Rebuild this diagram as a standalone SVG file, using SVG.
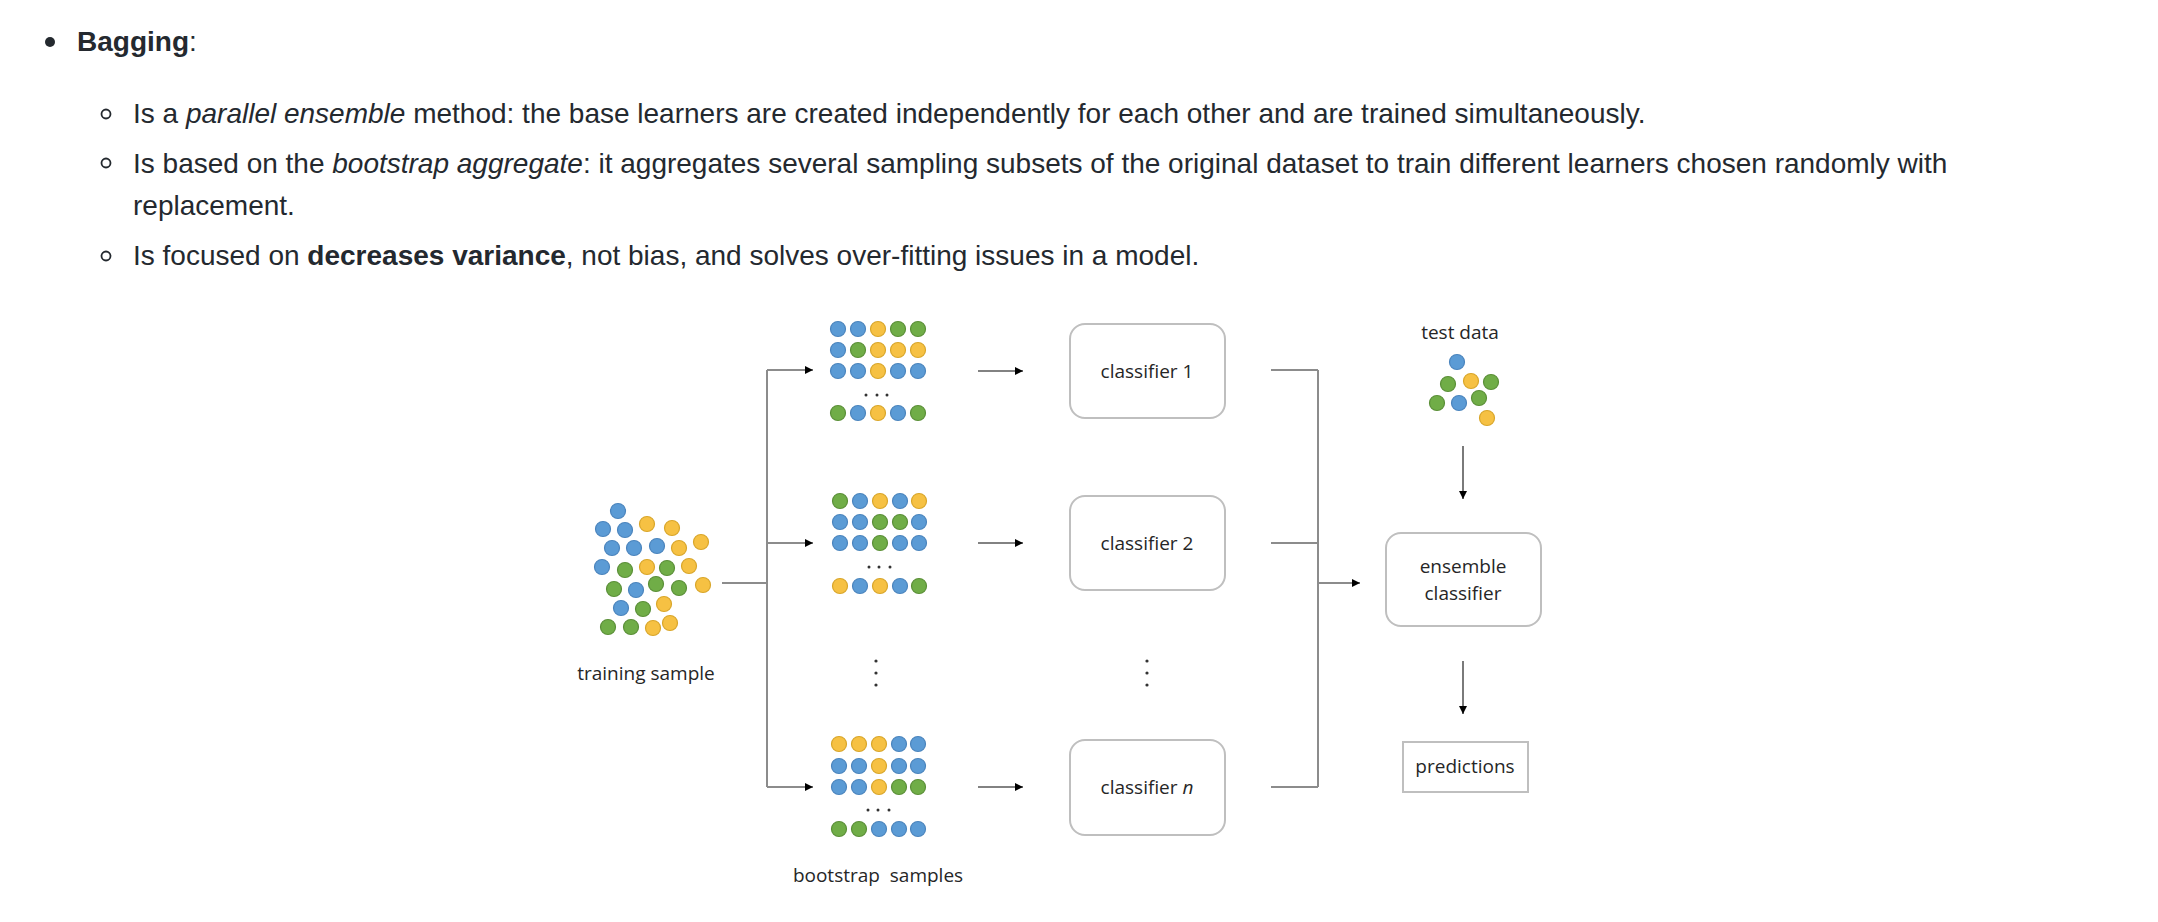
<svg xmlns="http://www.w3.org/2000/svg" width="2158" height="922" viewBox="0 0 2158 922">
<style>
.hdr{font-family:"Liberation Sans",Arial,sans-serif;font-size:28px;fill:#24292f}
.b{font-weight:bold}
.i{font-style:italic}
.lbl{font-family:"Open Sans","Noto Sans",sans-serif;font-size:19px;fill:#262626}
.box{fill:#fff;stroke:#bfbfbf;stroke-width:2}
.ln{fill:none;stroke:#8c8c8c;stroke-width:2}
.ar{fill:none;stroke:#595959;stroke-width:1.6}
.B{fill:#5b9bd5;stroke:#4a84bd;stroke-width:1.2}
.Y{fill:#f6c143;stroke:#d9a62a;stroke-width:1.2}
.G{fill:#70ad47;stroke:#5a8f37;stroke-width:1.2}
.dot{fill:#333}
</style>
<defs>
<marker id="ah" viewBox="0 0 10 10" refX="10" refY="5" markerWidth="8" markerHeight="8" markerUnits="userSpaceOnUse" orient="auto"><path d="M0,0 L10,5 L0,10 z" fill="#000"/></marker>
</defs>
<rect width="2158" height="922" fill="#fff"/>

<g id="text-header">
<circle cx="50" cy="42" r="5" fill="#24292f"/>
<text class="hdr" x="77" y="51"><tspan class="b">Bagging</tspan>:</text>
<circle cx="106" cy="114" r="4.5" fill="none" stroke="#24292f" stroke-width="1.8"/>
<text class="hdr" x="133" y="123">Is a <tspan class="i">parallel ensemble</tspan> method: the base learners are created independently for each other and are trained simultaneously.</text>
<circle cx="106" cy="163" r="4.5" fill="none" stroke="#24292f" stroke-width="1.8"/>
<text class="hdr" x="133" y="173">Is based on the <tspan class="i">bootstrap aggregate</tspan>: it aggregates several sampling subsets of the original dataset to train different learners chosen randomly with</text>
<text class="hdr" x="133" y="215">replacement.</text>
<circle cx="106" cy="256" r="4.5" fill="none" stroke="#24292f" stroke-width="1.8"/>
<text class="hdr" x="133" y="265">Is focused on <tspan class="b">decreases variance</tspan>, not bias, and solves over-fitting issues in a model.</text>
</g>

<g id="connectors">
<path class="ln" d="M722,583 H767 M767,370 V787"/>
<path class="ln" d="M767,370 H813" marker-end="url(#ah)"/>
<path class="ln" d="M767,543 H813" marker-end="url(#ah)"/>
<path class="ln" d="M767,787 H813" marker-end="url(#ah)"/>
<path class="ar" d="M978,371 H1023" marker-end="url(#ah)"/>
<path class="ar" d="M978,543 H1023" marker-end="url(#ah)"/>
<path class="ar" d="M978,787 H1023" marker-end="url(#ah)"/>
<path class="ln" d="M1271,370 H1318 M1271,543 H1318 M1271,787 H1318 M1318,370 V787"/>
<path class="ln" d="M1318,583 H1360" marker-end="url(#ah)"/>
<path class="ar" d="M1463,446 V499" marker-end="url(#ah)"/>
<path class="ar" d="M1463,661 V714" marker-end="url(#ah)"/>
</g>

<g id="training-sample">
<circle class="B" cx="618" cy="511" r="7.5"/>
<circle class="B" cx="603" cy="529" r="7.5"/>
<circle class="B" cx="625" cy="530" r="7.5"/>
<circle class="Y" cx="647" cy="524" r="7.5"/>
<circle class="Y" cx="672" cy="528" r="7.5"/>
<circle class="B" cx="612" cy="548" r="7.5"/>
<circle class="B" cx="634" cy="548" r="7.5"/>
<circle class="B" cx="657" cy="546" r="7.5"/>
<circle class="Y" cx="679" cy="548" r="7.5"/>
<circle class="Y" cx="701" cy="542" r="7.5"/>
<circle class="B" cx="602" cy="567" r="7.5"/>
<circle class="G" cx="625" cy="570" r="7.5"/>
<circle class="Y" cx="647" cy="567" r="7.5"/>
<circle class="G" cx="667" cy="568" r="7.5"/>
<circle class="Y" cx="689" cy="566" r="7.5"/>
<circle class="G" cx="614" cy="589" r="7.5"/>
<circle class="B" cx="636" cy="590" r="7.5"/>
<circle class="G" cx="656" cy="584" r="7.5"/>
<circle class="G" cx="679" cy="588" r="7.5"/>
<circle class="Y" cx="703" cy="585" r="7.5"/>
<circle class="B" cx="621" cy="608" r="7.5"/>
<circle class="G" cx="643" cy="609" r="7.5"/>
<circle class="Y" cx="664" cy="604" r="7.5"/>
<circle class="G" cx="608" cy="627" r="7.5"/>
<circle class="G" cx="631" cy="627" r="7.5"/>
<circle class="Y" cx="653" cy="628" r="7.5"/>
<circle class="Y" cx="670" cy="623" r="7.5"/>
<text class="lbl" x="646" y="680" text-anchor="middle">training sample</text>
</g>

<g id="bootstrap-1">
<circle class="B" cx="838" cy="329" r="7.5"/><circle class="B" cx="858" cy="329" r="7.5"/><circle class="Y" cx="878" cy="329" r="7.5"/><circle class="G" cx="898" cy="329" r="7.5"/><circle class="G" cx="918" cy="329" r="7.5"/>
<circle class="B" cx="838" cy="350" r="7.5"/><circle class="G" cx="858" cy="350" r="7.5"/><circle class="Y" cx="878" cy="350" r="7.5"/><circle class="Y" cx="898" cy="350" r="7.5"/><circle class="Y" cx="918" cy="350" r="7.5"/>
<circle class="B" cx="838" cy="371" r="7.5"/><circle class="B" cx="858" cy="371" r="7.5"/><circle class="Y" cx="878" cy="371" r="7.5"/><circle class="B" cx="898" cy="371" r="7.5"/><circle class="B" cx="918" cy="371" r="7.5"/>
<circle class="dot" cx="866" cy="395" r="1.5"/><circle class="dot" cx="877" cy="395" r="1.5"/><circle class="dot" cx="887" cy="395" r="1.5"/>
<circle class="G" cx="838" cy="413" r="7.5"/><circle class="B" cx="858" cy="413" r="7.5"/><circle class="Y" cx="878" cy="413" r="7.5"/><circle class="B" cx="898" cy="413" r="7.5"/><circle class="G" cx="918" cy="413" r="7.5"/>
</g>

<g id="bootstrap-2">
<circle class="G" cx="840" cy="501" r="7.5"/><circle class="B" cx="860" cy="501" r="7.5"/><circle class="Y" cx="880" cy="501" r="7.5"/><circle class="B" cx="900" cy="501" r="7.5"/><circle class="Y" cx="919" cy="501" r="7.5"/>
<circle class="B" cx="840" cy="522" r="7.5"/><circle class="B" cx="860" cy="522" r="7.5"/><circle class="G" cx="880" cy="522" r="7.5"/><circle class="G" cx="900" cy="522" r="7.5"/><circle class="B" cx="919" cy="522" r="7.5"/>
<circle class="B" cx="840" cy="543" r="7.5"/><circle class="B" cx="860" cy="543" r="7.5"/><circle class="G" cx="880" cy="543" r="7.5"/><circle class="B" cx="900" cy="543" r="7.5"/><circle class="B" cx="919" cy="543" r="7.5"/>
<circle class="dot" cx="869" cy="567" r="1.5"/><circle class="dot" cx="879" cy="567" r="1.5"/><circle class="dot" cx="890" cy="567" r="1.5"/>
<circle class="Y" cx="840" cy="586" r="7.5"/><circle class="B" cx="860" cy="586" r="7.5"/><circle class="Y" cx="880" cy="586" r="7.5"/><circle class="B" cx="900" cy="586" r="7.5"/><circle class="G" cx="919" cy="586" r="7.5"/>
</g>

<g id="bootstrap-ellipsis">
<circle class="dot" cx="876" cy="661" r="1.6"/><circle class="dot" cx="876" cy="673" r="1.6"/><circle class="dot" cx="876" cy="685" r="1.6"/>
</g>

<g id="bootstrap-n">
<circle class="Y" cx="839" cy="744" r="7.5"/><circle class="Y" cx="859" cy="744" r="7.5"/><circle class="Y" cx="879" cy="744" r="7.5"/><circle class="B" cx="899" cy="744" r="7.5"/><circle class="B" cx="918" cy="744" r="7.5"/>
<circle class="B" cx="839" cy="766" r="7.5"/><circle class="B" cx="859" cy="766" r="7.5"/><circle class="Y" cx="879" cy="766" r="7.5"/><circle class="B" cx="899" cy="766" r="7.5"/><circle class="B" cx="918" cy="766" r="7.5"/>
<circle class="B" cx="839" cy="787" r="7.5"/><circle class="B" cx="859" cy="787" r="7.5"/><circle class="Y" cx="879" cy="787" r="7.5"/><circle class="G" cx="899" cy="787" r="7.5"/><circle class="G" cx="918" cy="787" r="7.5"/>
<circle class="dot" cx="868" cy="810" r="1.5"/><circle class="dot" cx="878" cy="810" r="1.5"/><circle class="dot" cx="889" cy="810" r="1.5"/>
<circle class="G" cx="839" cy="829" r="7.5"/><circle class="G" cx="859" cy="829" r="7.5"/><circle class="B" cx="879" cy="829" r="7.5"/><circle class="B" cx="899" cy="829" r="7.5"/><circle class="B" cx="918" cy="829" r="7.5"/>
<text class="lbl" x="878" y="882" text-anchor="middle" xml:space="preserve">bootstrap  samples</text>
</g>

<g id="classifier-1">
<rect class="box" x="1070" y="324" width="155" height="94" rx="15"/>
<text class="lbl" x="1147" y="378" text-anchor="middle">classifier 1</text>
</g>
<g id="classifier-2">
<rect class="box" x="1070" y="496" width="155" height="94" rx="15"/>
<text class="lbl" x="1147" y="550" text-anchor="middle">classifier 2</text>
</g>
<g id="classifier-ellipsis">
<circle class="dot" cx="1147" cy="661" r="1.6"/><circle class="dot" cx="1147" cy="673" r="1.6"/><circle class="dot" cx="1147" cy="685" r="1.6"/>
</g>
<g id="classifier-n">
<rect class="box" x="1070" y="740" width="155" height="95" rx="15"/>
<text class="lbl" x="1147" y="794" text-anchor="middle">classifier <tspan font-style="italic">n</tspan></text>
</g>

<g id="test-data">
<text class="lbl" x="1460" y="339" text-anchor="middle">test data</text>
<circle class="B" cx="1457" cy="362" r="7.5"/>
<circle class="G" cx="1448" cy="384" r="7.5"/>
<circle class="Y" cx="1471" cy="381" r="7.5"/>
<circle class="G" cx="1491" cy="382" r="7.5"/>
<circle class="G" cx="1437" cy="403" r="7.5"/>
<circle class="B" cx="1459" cy="403" r="7.5"/>
<circle class="G" cx="1479" cy="398" r="7.5"/>
<circle class="Y" cx="1487" cy="418" r="7.5"/>
</g>

<g id="ensemble-classifier">
<rect class="box" x="1386" y="533" width="155" height="93" rx="15"/>
<text class="lbl" x="1463" y="573" text-anchor="middle">ensemble</text>
<text class="lbl" x="1463" y="600" text-anchor="middle">classifier</text>
</g>

<g id="predictions">
<rect class="box" x="1403" y="742" width="125" height="50"/>
<text class="lbl" x="1465" y="773" text-anchor="middle">predictions</text>
</g>
</svg>
